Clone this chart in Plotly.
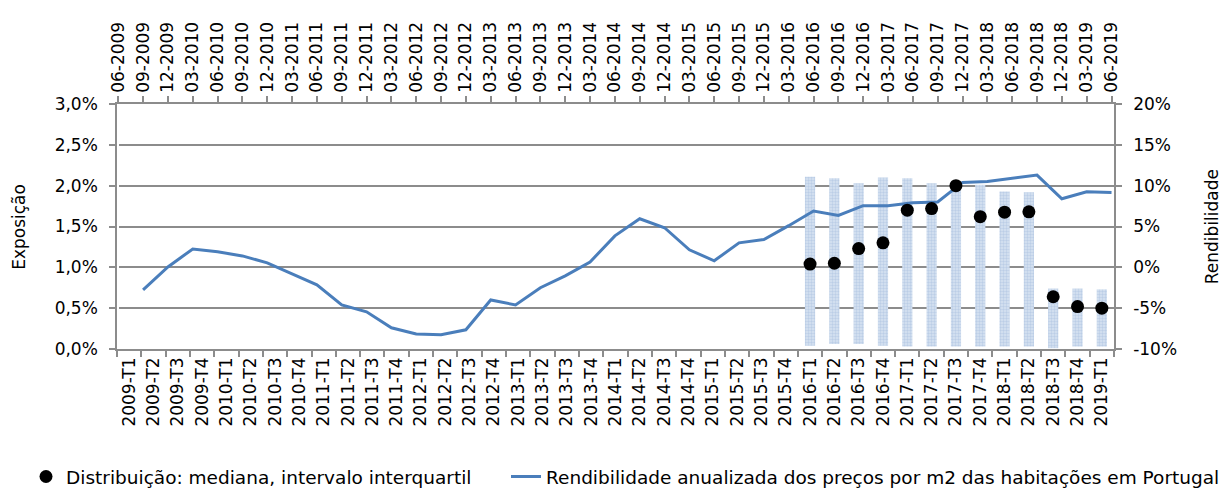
import plotly.graph_objects as go

# ---------------- data ----------------
years_q = [(y, q) for y in range(2009, 2019) for q in (1, 2, 3, 4)] + [(2019, 1)]
bottom_labels = [f"{y}-T{q}" for y, q in years_q]
top_labels = [f"{['03','06','09','12'][(q) % 4]}-{y + (1 if q == 4 else 0)}" for y, q in years_q]

# Rendibilidade anualizada (%), right axis, one value per quarter (first missing)
rendibilidade = [None, -2.75, 0.05, 2.25, 1.9, 1.4, 0.55, -0.8, -2.15, -4.6,
                 -5.45, -7.4, -8.15, -8.25, -7.65, -4.0, -4.6, -2.5, -1.05, 0.65,
                 3.85, 5.95, 4.85, 2.15, 0.8, 3.0, 3.4, 5.1, 6.9, 6.35,
                 7.55, 7.55, 7.9, 8.0, 10.4, 10.5, 10.9, 11.3, 8.4, 9.25, 9.15]

# Exposição distribution (%), 2016-T1 .. 2019-T1
dist_labels = bottom_labels[28:]
mediana = [1.04, 1.05, 1.23, 1.30, 1.70, 1.72, 2.00, 1.62, 1.675, 1.68, 0.64, 0.52, 0.50]
q_inf = [0.04, 0.06, 0.06, 0.04, 0.03, 0.03, 0.03, 0.03, 0.03, 0.03, 0.01, 0.03, 0.03]
q_sup = [2.11, 2.09, 2.03, 2.10, 2.09, 2.03, 2.05, 2.01, 1.93, 1.92, 0.74, 0.74, 0.73]

left_ticks = [0, 0.5, 1.0, 1.5, 2.0, 2.5, 3.0]
left_ticktext = ["0,0%", "0,5%", "1,0%", "1,5%", "2,0%", "2,5%", "3,0%"]
right_ticks = [-10, -5, 0, 5, 10, 15, 20]
right_ticktext = ["-10%", "-5%", "0%", "5%", "10%", "15%", "20%"]

# ---------------- style ----------------
FONT = "DejaVu Sans"
GRAY = "#8c8c8c"
BLUE = "#4a7ebb"

fig = go.Figure()

fig.add_trace(go.Bar(
    x=dist_labels, y=[h - l for h, l in zip(q_sup, q_inf)], base=q_inf,
    width=0.42, xaxis="x", yaxis="y", showlegend=False, hoverinfo="skip",
    marker=dict(color="#d8e3f1", line=dict(width=0),
                pattern=dict(shape=".", fgcolor="#9fb8dc", size=3, solidity=0.5)),
))

fig.add_trace(go.Scatter(
    x=dist_labels, y=mediana, mode="markers", xaxis="x3", yaxis="y3",
    name="Distribuição: mediana, intervalo interquartil", legend="legend",
    marker=dict(color="black", size=13),
))

fig.add_trace(go.Scatter(
    x=list(range(len(top_labels))), y=rendibilidade, mode="lines",
    xaxis="x2", yaxis="y2", legend="legend2",
    name="Rendibilidade anualizada dos preços por m2 das habitações em Portugal",
    line=dict(color=BLUE, width=3),
))

axis_common = dict(showline=True, linecolor=GRAY, linewidth=1.5, ticks="outside",
                   tickcolor=GRAY, tickwidth=1.5, ticklen=6,
                   tickfont=dict(family=FONT, size=17, color="black"))

legend_common = dict(orientation="h", xref="container", yref="container",
                     y=1 - 477 / 490, xanchor="left", yanchor="middle",
                     font=dict(family=FONT, size=18.5, color="black"),
                     bgcolor="rgba(0,0,0,0)")

fig.update_layout(
    width=1224, height=490,
    margin=dict(l=117, r=110, t=104, b=141),
    paper_bgcolor="white", plot_bgcolor="white",
    font=dict(family=FONT, size=17, color="black"),
    xaxis=dict(type="category", categoryorder="array", categoryarray=bottom_labels,
               range=[-0.5, 40.5], tickson="boundaries", tickangle=-90,
               showgrid=False, **axis_common),
    xaxis2=dict(overlaying="x", side="top", range=[-0.05, 40.1],
                tickvals=list(range(len(top_labels))), ticktext=top_labels,
                tickangle=-90, showgrid=False, **axis_common),
    xaxis3=dict(type="category", categoryorder="array", categoryarray=bottom_labels,
                overlaying="x", range=[-0.5, 40.5], visible=False),
    yaxis=dict(range=[0, 3.0], tickvals=left_ticks, ticktext=left_ticktext,
               showgrid=True, gridcolor=GRAY, gridwidth=1.5, zeroline=False,
               ticklabelstandoff=8, **axis_common),
    yaxis2=dict(overlaying="y", side="right", range=[-10, 20], tickvals=right_ticks,
                ticktext=right_ticktext, showgrid=False, zeroline=False,
                ticklabelstandoff=8, **axis_common),
    yaxis3=dict(overlaying="y", range=[0, 3.0], visible=False),
    legend=dict(x=26 / 1224, **legend_common),
    legend2=dict(x=506 / 1224, **legend_common),
    annotations=[
        dict(text="Exposição", xref="paper", yref="paper", x=-0.099, y=0.5,
             textangle=-90, showarrow=False, font=dict(family=FONT, size=17),
             xanchor="center", yanchor="middle"),
        dict(text="Rendibilidade", xref="paper", yref="paper", x=1.098, y=0.5,
             textangle=-90, showarrow=False, font=dict(family=FONT, size=17),
             xanchor="center", yanchor="middle"),
    ],
)

fig.write_html("out.html")
